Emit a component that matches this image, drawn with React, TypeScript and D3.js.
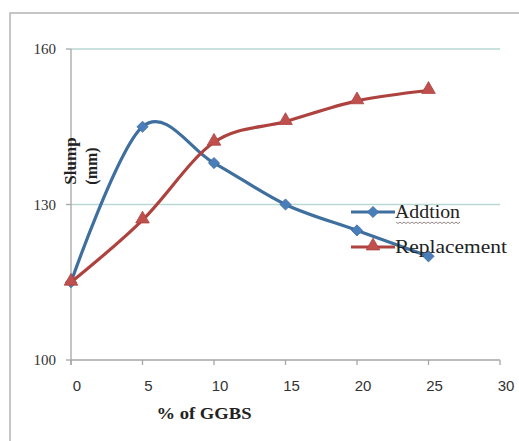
import React from "react";
import * as d3 from "d3";

// GGBS content (%) and slump values (mm) for the two mixing methods
const ggbsPercent = [0, 5, 10, 15, 20, 25];
const additionSlump = [115, 145, 138, 130, 125, 120];
const replacementSlump = [115, 127, 142, 146, 150, 152];
const xTicks = [0, 5, 10, 15, 20, 25, 30];
const yTicks = [100, 130, 160];
const gridValues = [130, 160];
const seriesNames = ["Addtion", "Replacement"];

const W = 519;
const H = 441;

const BLUE_LINE = "#3f6f9e";
const BLUE_MARK = "#4a7ebb";
const RED_LINE = "#ad423f";
const RED_MARK = "#c0504d";

export default function App() {
  const x = d3.scaleLinear().domain([0, 30]).range([71, 500]);
  const y = d3.scaleLinear().domain([100, 160]).range([360, 49]);

  const line = d3
    .line<[number, number]>()
    .x((d) => x(d[0]))
    .y((d) => y(d[1]))
    .curve(d3.curveCardinal.tension(0));

  const addPts: [number, number][] = ggbsPercent.map((g, i) => [g, additionSlump[i]]);
  const repPts: [number, number][] = ggbsPercent.map((g, i) => [g, replacementSlump[i]]);

  const diamond = d3.symbol(d3.symbolDiamond2, 80)();
  const triangle = d3.symbol(d3.symbolTriangle, 80)();

  const serif = "'Liberation Serif', 'DejaVu Serif', serif";
  const sans = "'Liberation Sans', Arial, sans-serif";

  // wavy spell-check underline under the first legend entry
  const squiggle = (() => {
    const pts: [number, number][] = [];
    for (let px = 396; px <= 460; px += 2) {
      pts.push([px, 222 + ((px / 2) % 2 === 0 ? 0 : 1.6)]);
    }
    return d3.line()(pts) || "";
  })();

  const legendY = [212, 247];

  return (
    <svg
      width={W}
      height={H}
      style={{ position: "absolute", left: 0, top: 0, background: "#ffffff" }}
    >
      {/* chart frame */}
      <rect x={10} y={13} width={W + 20} height={H + 20} fill="#ffffff" stroke="#b4b4b4" strokeWidth={1.5} />

      {/* gridlines */}
      {gridValues.map((v) => (
        <line key={v} x1={x(0)} x2={x(30)} y1={y(v)} y2={y(v)} stroke="#b9d9d2" strokeWidth={1.3} />
      ))}

      {/* axes */}
      <line x1={x(0)} x2={x(0)} y1={y(160)} y2={y(100) + 5} stroke="#a6a6a6" strokeWidth={1.3} />
      <line x1={x(0)} x2={x(30)} y1={y(100)} y2={y(100)} stroke="#a6a6a6" strokeWidth={1.3} />

      {/* y ticks and labels */}
      {yTicks.map((v) => (
        <g key={v}>
          <line x1={x(0) - 5} x2={x(0)} y1={y(v)} y2={y(v)} stroke="#a6a6a6" strokeWidth={1.3} />
          <text x={56} y={y(v) + 5} textAnchor="end" fontFamily={serif} fontSize={15} fill="#333">
            {v}
          </text>
        </g>
      ))}

      {/* x ticks and labels */}
      {xTicks.map((v) => (
        <g key={v}>
          <line x1={x(v)} x2={x(v)} y1={y(100)} y2={y(100) + 5} stroke="#a6a6a6" strokeWidth={1.3} />
          <text x={x(v) + 6} y={391} textAnchor="middle" fontFamily={sans} fontSize={15} fill="#333">
            {v}
          </text>
        </g>
      ))}

      {/* axis titles */}
      <text
        x={204}
        y={419}
        textAnchor="middle"
        fontFamily={serif}
        fontWeight="bold"
        fontSize={17}
        textLength={95}
        lengthAdjust="spacingAndGlyphs"
        fill="#222"
      >
        % of GGBS
      </text>
      <text
        transform={`translate(76,161) rotate(-90)`}
        textAnchor="middle"
        fontFamily={serif}
        fontWeight="bold"
        fontSize={17}
        fill="#222"
      >
        Slump
      </text>
      <text
        transform={`translate(97,166) rotate(-90)`}
        textAnchor="middle"
        fontFamily={serif}
        fontWeight="bold"
        fontSize={16}
        fill="#222"
      >
        (mm)
      </text>

      {/* series lines */}
      <path d={line(addPts) || ""} fill="none" stroke={BLUE_LINE} strokeWidth={3.2} strokeLinejoin="round" />
      <path d={line(repPts) || ""} fill="none" stroke={RED_LINE} strokeWidth={3.2} strokeLinejoin="round" />

      {/* markers */}
      {addPts.map((p, i) => (
        <path key={"a" + i} d={diamond} transform={`translate(${x(p[0])},${y(p[1])})`} fill={BLUE_MARK} stroke={BLUE_LINE} strokeWidth={0.8} />
      ))}
      {repPts.map((p, i) => (
        <path key={"r" + i} d={triangle} transform={`translate(${x(p[0])},${y(p[1]) - 1})`} fill={RED_MARK} stroke={RED_LINE} strokeWidth={0.8} />
      ))}

      {/* legend */}
      {seriesNames.map((name, i) => {
        const ly = legendY[i];
        const isAdd = i === 0;
        return (
          <g key={name}>
            <line x1={351} x2={395} y1={ly} y2={ly} stroke={isAdd ? BLUE_LINE : RED_LINE} strokeWidth={3.2} />
            <path
              d={isAdd ? diamond : triangle}
              transform={`translate(373,${isAdd ? ly : ly - 1})`}
              fill={isAdd ? BLUE_MARK : RED_MARK}
              stroke={isAdd ? BLUE_LINE : RED_LINE}
              strokeWidth={0.8}
            />
            <text
              x={395}
              y={ly + 6}
              fontFamily={serif}
              fontSize={18}
              textLength={isAdd ? 65 : 112}
              lengthAdjust="spacingAndGlyphs"
              fill="#222"
            >
              {name}
            </text>
          </g>
        );
      })}
      <path d={squiggle} fill="none" stroke="#8a7a7a" strokeWidth={0.9} />
    </svg>
  );
}
